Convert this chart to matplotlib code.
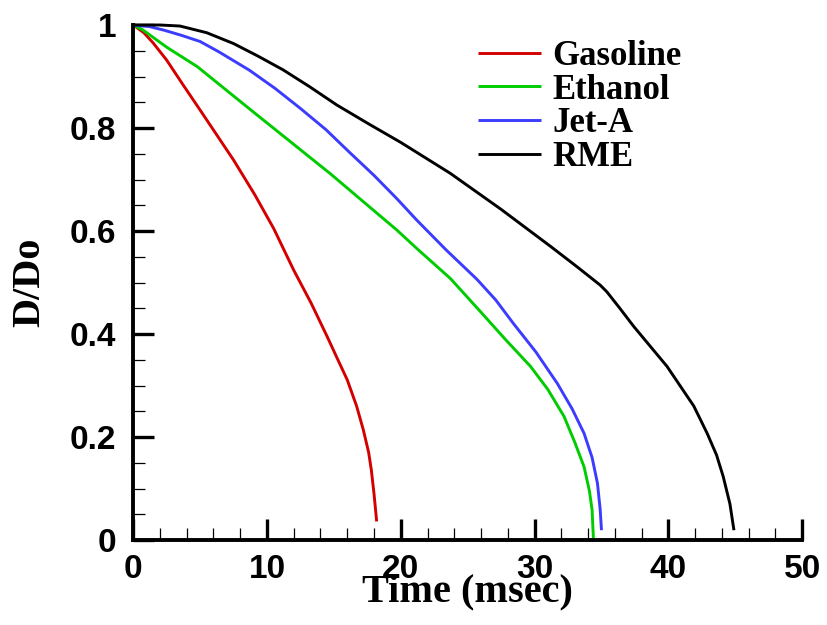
import matplotlib
matplotlib.use('Agg')
import matplotlib.pyplot as plt
from matplotlib.ticker import MultipleLocator

# Data (time in msec, D/Do)
t_gas = [0, 0.8, 1.5, 2.5, 3.7, 5.0, 7.5, 9.1, 10.5, 12.0, 13.3, 14.5, 15.3, 16.0, 16.7, 17.2, 17.6, 17.8, 18.0, 18.2]
d_gas = [1.0, 0.985, 0.965, 0.932, 0.885, 0.835, 0.738, 0.67, 0.605, 0.524, 0.46, 0.395, 0.35, 0.311, 0.26, 0.214, 0.17, 0.136, 0.09, 0.036]

t_eth = [0, 0.75, 2.5, 4.8, 8.7, 14.7, 17.2, 19.7, 21.2, 23.7, 25.9, 27.8, 29.7, 31.0, 32.2, 33.0, 33.7, 34.1, 34.3, 34.4]
d_eth = [1.0, 0.99, 0.957, 0.919, 0.837, 0.712, 0.657, 0.602, 0.566, 0.508, 0.445, 0.39, 0.337, 0.292, 0.24, 0.19, 0.142, 0.095, 0.058, 0.0]

t_jet = [0, 1.2, 2.3, 3.6, 5.0, 6.4, 8.7, 10.6, 12.5, 14.4, 16.2, 18.0, 19.7, 21.2, 23.4, 25.7, 27.1, 28.4,
         30.1, 31.7, 32.8, 33.7, 34.3, 34.7, 34.9, 35.0]
d_jet = [1.0, 0.997, 0.99, 0.98, 0.968, 0.948, 0.912, 0.877, 0.838, 0.797, 0.752, 0.708, 0.663, 0.621, 0.563, 0.506, 0.466, 0.421,
         0.365, 0.304, 0.255, 0.207, 0.16, 0.11, 0.06, 0.019]

t_rme = [0, 2.0, 3.5, 5.5, 7.5, 9.3, 11.2, 13.2, 15.2, 17.6, 20.0, 23.7, 27.5, 31.2, 33.2, 34.9, 35.4, 36.4,
         37.4, 39.9, 41.9, 42.9, 43.6, 44.1, 44.6, 44.9]
d_rme = [1.0, 1.0, 0.998, 0.985, 0.964, 0.94, 0.913, 0.88, 0.845, 0.808, 0.772, 0.712, 0.642, 0.57, 0.53, 0.495, 0.482, 0.449,
         0.415, 0.337, 0.26, 0.207, 0.165, 0.123, 0.07, 0.019]

labels = ['Gasoline', 'Ethanol', 'Jet-A', 'RME']
colors = ['#d40000', '#00cc00', '#3c3cff', 'black']

xticks = [0, 10, 20, 30, 40, 50]
xticklabels = ['0', '10', '20', '30', '40', '50']
yticks = [0, 0.2, 0.4, 0.6, 0.8, 1.0]
yticklabels = ['0', '0.2', '0.4', '0.6', '0.8', '1']

fig = plt.figure(figsize=(8.27, 6.25), dpi=100)
ax = fig.add_axes([0.161, 0.136, 0.809, 0.824])

series = [(t_gas, d_gas), (t_eth, d_eth), (t_jet, d_jet), (t_rme, d_rme)]
for (t, d), lab, c in zip(series, labels, colors):
    ax.plot(t, d, color=c, lw=2.1, label=lab, clip_on=False, solid_capstyle='butt')

ax.set_xlim(0, 50)
ax.set_ylim(0, 1)

# Only left and bottom axis lines
ax.spines['top'].set_visible(False)
ax.spines['right'].set_visible(False)
ax.spines['left'].set_linewidth(2.8)
ax.spines['bottom'].set_linewidth(2.8)

ax.set_xticks(xticks)
ax.set_xticklabels(xticklabels)
ax.set_yticks(yticks)
ax.set_yticklabels(yticklabels)
ax.xaxis.set_minor_locator(MultipleLocator(2))
ax.yaxis.set_minor_locator(MultipleLocator(0.05))

ax.tick_params(which='major', direction='in', length=15, width=2.4)
ax.tick_params(which='minor', direction='in', length=8.3, width=0.9)
ax.tick_params(axis='x', which='major', pad=10)
ax.tick_params(axis='y', which='major', pad=12)
for lbl in ax.get_xticklabels() + ax.get_yticklabels():
    lbl.set_fontfamily('Liberation Sans')
    lbl.set_fontweight('bold')
    lbl.set_fontsize(24)

ax.set_xlabel('Time (msec)', fontfamily='Liberation Serif', fontweight='bold', fontsize=29)
ax.set_ylabel('D/Do', fontfamily='Liberation Serif', fontweight='bold', fontsize=29)
ax.xaxis.set_label_coords(0.5, -0.064)
ax.yaxis.set_label_coords(-0.1265, 0.5)

ax.legend(loc='upper left', bbox_to_anchor=(0.516, 0.971), frameon=False,
          borderpad=0, borderaxespad=0, handlelength=1.8, handletextpad=0.33,
          labelspacing=0.02,
          prop={'family': 'Liberation Serif', 'weight': 'bold', 'size': 25})

fig.savefig('out.png', dpi=100)
